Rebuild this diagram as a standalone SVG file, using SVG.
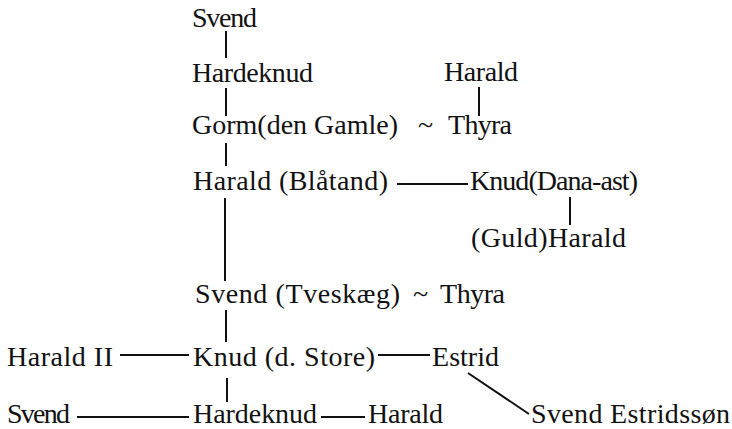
<svg xmlns="http://www.w3.org/2000/svg" width="732" height="429" viewBox="0 0 732 429">
<style>
text{font-family:"Liberation Serif","Times New Roman",serif;font-size:28px;fill:#111}
.c line{stroke:#111;stroke-width:2}
</style>
<rect width="732" height="429" fill="#fff"/>
<g id="connectors" class="c">
<line x1="226" y1="31" x2="226" y2="58"/>
<line x1="226" y1="88" x2="226" y2="116"/>
<line x1="479" y1="87" x2="479" y2="116"/>
<line x1="226" y1="143" x2="226" y2="166"/>
<line x1="397" y1="184" x2="468" y2="184"/>
<line x1="570" y1="197" x2="570" y2="225"/>
<line x1="225" y1="198" x2="225" y2="281"/>
<line x1="226" y1="310" x2="226" y2="342"/>
<line x1="120" y1="355" x2="189" y2="355"/>
<line x1="378" y1="355" x2="430" y2="355"/>
<line x1="227" y1="378" x2="227" y2="402"/>
<line x1="77" y1="417" x2="189" y2="417"/>
<line x1="321" y1="417" x2="365" y2="417"/>
<line x1="468" y1="373" x2="529" y2="414"/>
</g>
<g id="svend1"><text x="192" y="27" textLength="65" lengthAdjust="spacing">Svend</text></g>
<g id="hardeknud1"><text x="192" y="82" textLength="121" lengthAdjust="spacing">Hardeknud</text></g>
<g id="harald1"><text x="444" y="81" textLength="74" lengthAdjust="spacing">Harald</text></g>
<g id="gorm"><text y="134"><tspan x="192" textLength="206" lengthAdjust="spacing">Gorm(den Gamle)</tspan><tspan x="418">~</tspan><tspan x="448" textLength="64" lengthAdjust="spacing">Thyra</tspan></text></g>
<g id="haraldBlatand"><text x="193" y="190" textLength="195" lengthAdjust="spacing">Harald (Blåtand)</text></g>
<g id="knudDana"><text x="470" y="190" textLength="168" lengthAdjust="spacing">Knud(Dana-ast)</text></g>
<g id="guldHarald"><text x="471" y="247" textLength="155" lengthAdjust="spacing">(Guld)Harald</text></g>
<g id="svendTveskaeg"><text y="303"><tspan x="195" textLength="205" lengthAdjust="spacing">Svend (Tveskæg)</tspan><tspan x="413">~</tspan><tspan x="440" textLength="65" lengthAdjust="spacing">Thyra</tspan></text></g>
<g id="haraldII"><text x="7" y="366" textLength="106" lengthAdjust="spacing">Harald II</text></g>
<g id="knudStore"><text x="193" y="366" textLength="182" lengthAdjust="spacing">Knud (d. Store)</text></g>
<g id="estrid"><text x="432" y="366" textLength="67" lengthAdjust="spacing">Estrid</text></g>
<g id="svend2"><text x="7" y="423" textLength="63" lengthAdjust="spacing">Svend</text></g>
<g id="hardeknud2"><text x="193" y="423" textLength="124" lengthAdjust="spacing">Hardeknud</text></g>
<g id="harald2"><text x="368" y="423" textLength="75" lengthAdjust="spacing">Harald</text></g>
<g id="svendEstridsson"><text x="531" y="423" textLength="199" lengthAdjust="spacing">Svend Estridssøn</text></g>
</svg>
